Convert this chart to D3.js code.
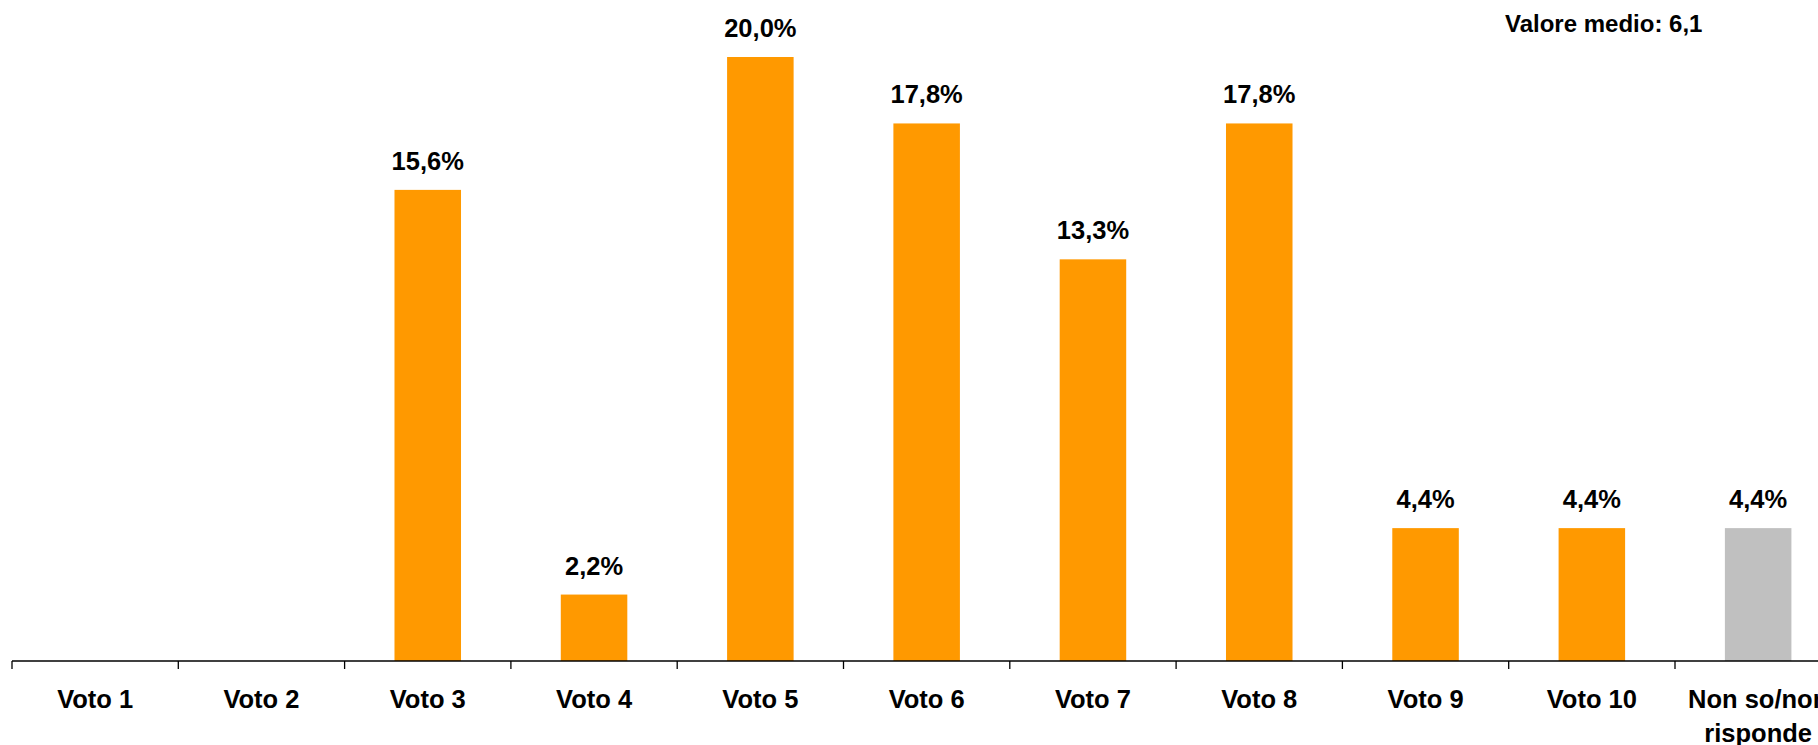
<!DOCTYPE html>
<html>
<head>
<meta charset="utf-8">
<script src="https://cdn.jsdelivr.net/npm/d3@7/dist/d3.min.js"></script>
<style>
  html, body { margin: 0; padding: 0; background: #fff; overflow: hidden; }
  text { font-family: "Liberation Sans", Arial, Helvetica, sans-serif; font-weight: bold; fill: #000; }
</style>
</head>
<body>
<svg id="chart" width="1818" height="745"></svg>
<script>
// Voting distribution (percent of respondents)
const categories = ["Voto 1", "Voto 2", "Voto 3", "Voto 4", "Voto 5", "Voto 6", "Voto 7", "Voto 8", "Voto 9", "Voto 10", "Non so/non risponde"];
const values = [0, 0, 15.6, 2.2, 20.0, 17.8, 13.3, 17.8, 4.4, 4.4, 4.4];
const valueLabels = ["", "", "15,6%", "2,2%", "20,0%", "17,8%", "13,3%", "17,8%", "4,4%", "4,4%", "4,4%"];
const noAnswerCategory = "Non so/non risponde";
const meanLabel = "Valore medio: 6,1";

const svg = d3.select("#chart");

const x0 = 12, step = 166.3;
const x = d3.scaleBand()
  .domain(categories)
  .range([x0, x0 + step * categories.length])
  .paddingInner(0.6)
  .paddingOuter(0.3);

const y = d3.scaleLinear().domain([0, 20]).range([661, 57]);

const data = categories.map((c, i) => ({ c, v: values[i], label: valueLabels[i] }));

// bars
svg.append("g").selectAll("rect")
  .data(data.filter(d => d.v > 0))
  .join("rect")
  .attr("x", d => x(d.c))
  .attr("y", d => y(d.v))
  .attr("width", x.bandwidth())
  .attr("height", d => y(0) - y(d.v))
  .attr("fill", d => d.c === noAnswerCategory ? "#c0c0c0" : "#ff9900");

// value labels
svg.append("g").selectAll("text")
  .data(data.filter(d => d.label))
  .join("text")
  .attr("x", d => x(d.c) + x.bandwidth() / 2)
  .attr("y", d => y(d.v) - 20)
  .attr("text-anchor", "middle")
  .attr("font-size", 25.5)
  .text(d => d.label);

// category axis: baseline with ticks on the category boundaries
const axis = svg.append("g");
axis.append("line")
  .attr("x1", x0).attr("x2", 1818)
  .attr("y1", y(0)).attr("y2", y(0))
  .attr("stroke", "#000").attr("stroke-width", 1.3);
axis.selectAll("line.tick")
  .data(categories)
  .join("line")
  .attr("class", "tick")
  .attr("x1", d => x(d) - x.step() * x.paddingOuter())
  .attr("x2", d => x(d) - x.step() * x.paddingOuter())
  .attr("y1", y(0)).attr("y2", y(0) + 8)
  .attr("stroke", "#000").attr("stroke-width", 1.3);

// category labels (split two-line label)
const catText = axis.selectAll("text.cat")
  .data(categories)
  .join("text")
  .attr("class", "cat")
  .attr("text-anchor", "middle")
  .attr("font-size", 25.5)
  .attr("x", d => x(d) + x.bandwidth() / 2)
  .attr("y", 708);
catText.each(function(d) {
  const lines = d === noAnswerCategory ? ["Non so/non", "risponde"] : [d];
  const t = d3.select(this);
  lines.forEach((ln, i) => {
    t.append("tspan")
      .attr("x", x(d) + x.bandwidth() / 2)
      .attr("dy", i === 0 ? 0 : 34)
      .text(ln);
  });
});

// mean value note
svg.append("text")
  .attr("x", 1505)
  .attr("y", 32)
  .attr("font-size", 24)
  .text(meanLabel);
</script>
</body>
</html>
